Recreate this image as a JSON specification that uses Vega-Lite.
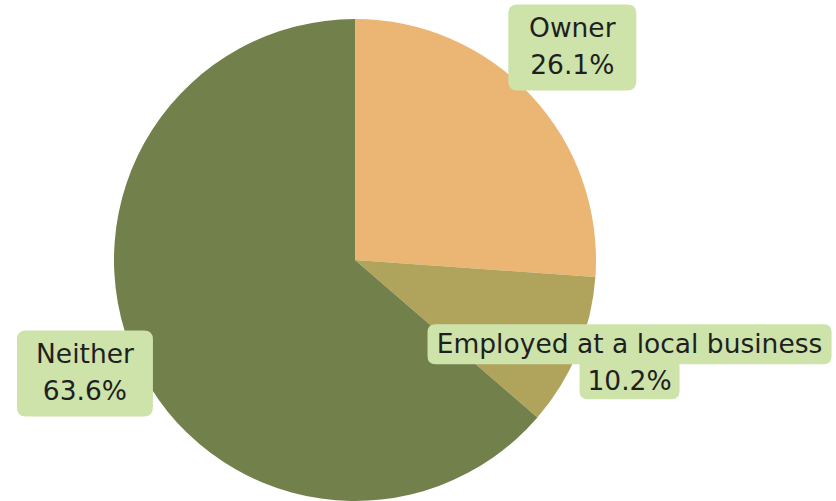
{
  "$schema": "https://vega.github.io/schema/vega-lite/v6.json",
  "width": 710,
  "height": 482,
  "autosize": "none",
  "padding": {"left": 0, "top": 19, "right": 126, "bottom": 0},
  "background": "white",
  "config": {"view": {"stroke": null}},
  "data": {
    "values": [
      {"category": "Owner", "pct": 26.1, "rank": 1, "label": "Owner\n26.1%"},
      {"category": "Employed at a local business", "pct": 10.2, "rank": 2, "label": "Employed at a local business\n10.2%"},
      {"category": "Neither", "pct": 63.6, "rank": 3, "label": "Neither\n63.6%"}
    ]
  },
  "transform": [
    {"window": [{"op": "sum", "field": "pct", "as": "cum"}], "sort": [{"field": "rank"}]},
    {"joinaggregate": [{"op": "sum", "field": "pct", "as": "total"}]},
    {"calculate": "2 * PI * (datum.cum - datum.pct / 2) / datum.total", "as": "midAngle"},
    {"calculate": "sin(datum.midAngle)", "as": "lx"},
    {"calculate": "cos(datum.midAngle)", "as": "ly"}
  ],
  "layer": [
    {
      "mark": {"type": "arc", "outerRadius": 241},
      "encoding": {
        "theta": {"field": "pct", "type": "quantitative", "stack": true},
        "order": {"field": "rank", "type": "quantitative"},
        "color": {
          "field": "category",
          "type": "nominal",
          "scale": {
            "domain": ["Owner", "Employed at a local business", "Neither"],
            "range": ["#ebb573", "#b0a45c", "#72814b"]
          },
          "legend": null
        }
      }
    },
    {
      "mark": {"type": "point", "filled": true, "size": 4, "fill": "#cde3aa", "opacity": 1, "strokeWidth": 0, "yOffset": -10},
      "encoding": {
        "x": {"field": "lx", "type": "quantitative", "axis": null, "scale": {"domain": [-1.19529, 1.19529], "nice": false, "zero": false}},
        "y": {"field": "ly", "type": "quantitative", "axis": null, "scale": {"domain": [-0.81145, 0.81145], "nice": false, "zero": false}},
        "shape": {
          "field": "category",
          "type": "nominal",
          "scale": {
            "domain": ["Owner", "Employed at a local business", "Neither"],
            "range": [
              "M-55,-43H55Q64,-43 64,-34V34Q64,43 55,43H-55Q-64,43 -64,34V-34Q-64,-43 -55,-43Z",
              "M-194,-39H194Q202,-39 202,-31V-7Q202,1 194,1H-194Q-202,1 -202,-7V-31Q-202,-39 -194,-39Z M-42,-5H42Q50,-5 50,3V28Q50,36 42,36H-42Q-50,36 -50,28V3Q-50,-5 -42,-5Z",
              "M-59,-43H59Q68,-43 68,-34V34Q68,43 59,43H-59Q-68,43 -68,34V-34Q-68,-43 -59,-43Z"
            ]
          },
          "legend": null
        }
      }
    },
    {
      "mark": {
        "type": "text",
        "dy": -28.5,
        "font": "DejaVu Sans",
        "fontSize": 26.5,
        "lineBreak": "\n",
        "lineHeight": 37,
        "align": "center",
        "baseline": "middle",
        "fill": "#1f1f1f"
      },
      "encoding": {
        "x": {"field": "lx", "type": "quantitative"},
        "y": {"field": "ly", "type": "quantitative"},
        "text": {"field": "label"}
      }
    }
  ]
}
